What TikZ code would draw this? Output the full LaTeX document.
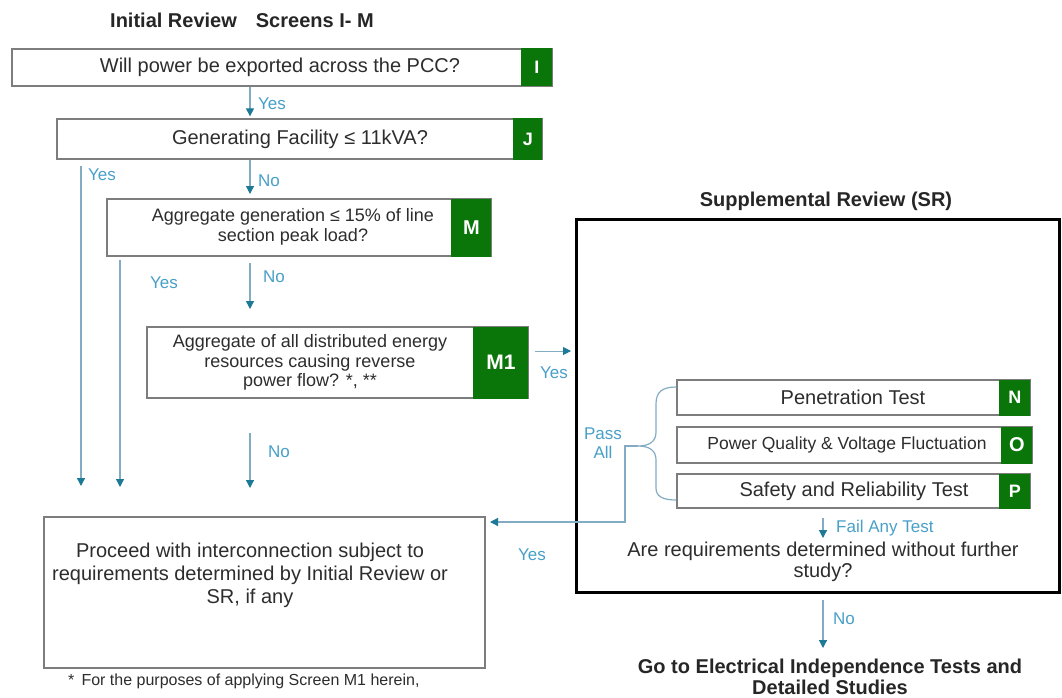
\documentclass[tikz,border=0pt]{standalone}
\usepackage{fontspec}
\setmainfont{Liberation Sans}
\usetikzlibrary{arrows.meta}
\definecolor{tagg}{RGB}{10,118,10}
\definecolor{lineb}{RGB}{130,172,196}
\definecolor{tipb}{RGB}{28,122,150}
\definecolor{lblb}{RGB}{72,160,200}
\definecolor{boxg}{RGB}{125,125,125}
\definecolor{txt}{RGB}{45,45,45}
\begin{document}
\begin{tikzpicture}[x=1pt,y=-1pt,
  qbox/.style={draw=boxg,line width=1.3pt,fill=white,inner sep=0pt},
  tag/.style={fill=tagg,text=white,inner sep=0pt,font=\bfseries\fontsize{18}{20}\selectfont},
  qtext/.style={text=txt,align=center,inner sep=0pt,font=\fontsize{20}{23}\selectfont},
  mtext/.style={text=txt,align=center,inner sep=0pt,font=\fontsize{18}{20}\selectfont},
  head/.style={text=black!85,align=center,inner sep=0pt,font=\bfseries\fontsize{20}{21}\selectfont},
  lbl/.style={text=lblb,inner sep=0pt,font=\fontsize{17}{18}\selectfont},
  conn/.style={draw=lineb,line width=1.2pt,-{Triangle[length=8pt,width=8pt,color=tipb]}},
  plain/.style={draw=lineb,line width=1.2pt}
]
\useasboundingbox[fill=white] (0,0) rectangle (1062,698);

% titles
\node[head,anchor=west] (t1) at (110,20) {Initial Review\hspace{19pt}Screens I- M};
\node[head] (t2) at (826,201) {Supplemental Review (SR)};

% Screen I
\node[qbox,minimum width=540,minimum height=37] (I) at (282,67.5) {};
\node[tag,minimum width=31,minimum height=38,anchor=east] (Itag) at (I.east) {I};
\node[qtext] (Itx) at (280,67) {Will power be exported across the PCC?};

% Screen J
\node[qbox,minimum width=485,minimum height=40] (J) at (299.5,139) {};
\node[tag,minimum width=29,minimum height=41,anchor=east] (Jtag) at (J.east) {J};
\node[qtext] (Jtx) at (300,139) {Generating Facility ≤ 11kVA?};

% Screen M
\node[qbox,minimum width=384,minimum height=57] (M) at (299,227.5) {};
\node[tag,minimum width=40,minimum height=58,anchor=east,font=\bfseries\fontsize{20}{22}\selectfont] (Mtag) at (M.east) {M};
\node[mtext] (Mtx) at (293,227) {Aggregate generation ≤ 15\% of line\\section peak load?};

% Screen M1
\node[qbox,minimum width=381,minimum height=71] (M1) at (337.5,362.5) {};
\node[tag,minimum width=55,minimum height=72,anchor=east,font=\bfseries\fontsize{21}{22}\selectfont] (M1tag) at (M1.east) {M1};
\node[mtext,font=\fontsize{18}{19.5}\selectfont] (M1tx) at (310,362.5) {Aggregate of all distributed energy\\resources causing reverse\\power flow? *, **};

% Proceed box
\node[qbox,minimum width=441,minimum height=151] (pr) at (264.5,592.5) {};
\node[qtext] (prtx) at (250,575) {Proceed with interconnection subject to\\requirements determined by Initial Review or\\SR, if any};

% Supplemental review box
\node[draw=black,line width=3pt,minimum width=483,minimum height=373,inner sep=0pt] (sr) at (817.5,405.5) {};

% N O P
\node[qbox,minimum width=353,minimum height=35] (N) at (853.5,397.5) {};
\node[tag,minimum width=31,minimum height=36,anchor=east] (Ntag) at (N.east) {N};
\node[qtext] (Ntx) at (853,397.5) {Penetration Test};

\node[qbox,minimum width=355,minimum height=36] (O) at (854.5,445) {};
\node[tag,minimum width=31,minimum height=37,anchor=east,font=\bfseries\fontsize{20}{22}\selectfont] (Otag) at (O.east) {O};
\node[qtext,font=\fontsize{17.5}{20}\selectfont] (Otx) at (847,445) {Power Quality \& Voltage Fluctuation};

\node[qbox,minimum width=353,minimum height=34] (P) at (853.5,491) {};
\node[tag,minimum width=31,minimum height=35,anchor=east] (Ptag) at (P.east) {P};
\node[qtext] (Ptx) at (854,491) {Safety and Reliability Test};

\node[qtext,font=\fontsize{20}{21}\selectfont] (req) at (823,562) {Are requirements determined without further\\study?};
\node[head] (go) at (830,677) {Go to Electrical Independence Tests and\\Detailed Studies};

% footnote
\node[qtext,anchor=west,font=\fontsize{16}{18}\selectfont] (fn) at (68,681) {*\, For the purposes of applying Screen M1 herein,};

% coordinates
\coordinate (jx) at (250,0);
\coordinate (ya1) at (81,166);
\coordinate (ya2) at (81,486);
\coordinate (yb1) at (120,260);
\coordinate (yb2) at (120,487);
\coordinate (mn1) at (250,263);
\coordinate (mn2) at (250,309);
\coordinate (m1n1) at (250,433);
\coordinate (m1n2) at (250,488);
\coordinate (m1y1) at (535,351);
\coordinate (m1y2) at (571,351);
\coordinate (bt) at (638,446);
\coordinate (pyes) at (490,522);
\coordinate (fa1) at (823,518);
\coordinate (fa2) at (823,538);
\coordinate (no1) at (823,600);
\coordinate (no2) at (823,648);

% connectors
\draw[conn] (I.south -| jx) -- ([yshift=2pt]J.north -| jx);
\node[lbl,anchor=west] (l1) at (258,104) {Yes};
\draw[conn] (J.south -| jx) -- (250,194);
\node[lbl,anchor=west] (l2) at (258,181) {No};
\draw[conn] (ya1) -- (ya2);
\node[lbl,anchor=west] (l3) at (88,175) {Yes};
\draw[conn] (yb1) -- (yb2);
\node[lbl,anchor=west] (l4) at (150,283) {Yes};
\draw[conn] (mn1) -- (mn2);
\node[lbl,anchor=west] (l5) at (263,277) {No};
\draw[conn] (m1n1) -- (m1n2);
\node[lbl,anchor=west] (l6) at (268,452) {No};
\draw[conn,line width=1pt] (m1y1) -- (m1y2);
\node[lbl] (l7) at (554,373) {Yes};

% brace
\draw[plain] (N.west |- 0,387) .. controls (662,387) and (656,392) .. (656,404)
  -- (656,432) .. controls (656,441) and (650,446) .. (bt)
  .. controls (650,446) and (656,451) .. (656,460)
  -- (656,488) .. controls (656,496) and (662,500) .. (P.west |- 0,500);
\draw[conn] (bt) -- (625,446) |- (pyes);
\node[lbl,align=center,font=\fontsize{17}{19}\selectfont] (l8) at (603,443) {Pass\\All};
\node[lbl] (l9) at (532,555) {Yes};

\draw[conn] (fa1) -- (fa2);
\node[lbl,anchor=west] (l10) at (836,528) {Fail Any Test};
\draw[conn] (no1) -- (no2);
\node[lbl,anchor=west] (l11) at (833,619) {No};
\end{tikzpicture}
\end{document}
